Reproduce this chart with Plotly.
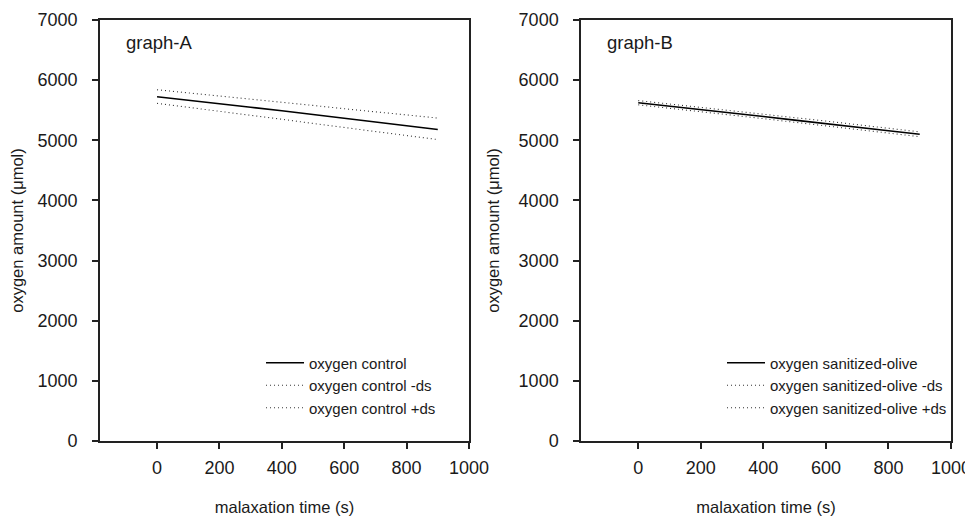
import plotly.graph_objects as go

# ---- data ----
time_s = [0, 100, 200, 300, 400, 500, 600, 700, 800, 900]

control = [5725, 5670, 5610, 5550, 5490, 5430, 5365, 5305, 5245, 5180]
control_minus = [5614, 5550, 5485, 5415, 5350, 5280, 5215, 5145, 5080, 5012]
control_plus = [5840, 5790, 5735, 5685, 5630, 5580, 5525, 5475, 5420, 5370]

sanit = [5625, 5570, 5510, 5455, 5395, 5335, 5280, 5220, 5160, 5100]
sanit_minus = [5590, 5535, 5478, 5420, 5360, 5300, 5240, 5180, 5120, 5060]
sanit_plus = [5660, 5605, 5545, 5490, 5430, 5375, 5320, 5260, 5200, 5140]

x_ticks = [0, 200, 400, 600, 800, 1000]
y_ticks = [0, 1000, 2000, 3000, 4000, 5000, 6000, 7000]

FONT = "Liberation Sans, Arial, sans-serif"
TXT = "#1a1a1a"

fig = go.Figure()

def add_set(xa, ya, legend, names, ys):
    styles = [dict(color="black", width=1.6, dash="solid"),
              dict(color="#333333", width=1.1, dash="1px,3px"),
              dict(color="#333333", width=1.1, dash="1px,3px")]
    for nm, yv, st in zip(names, ys, styles):
        fig.add_trace(go.Scatter(x=time_s, y=yv, mode="lines", name=nm,
                                 line=st, xaxis=xa, yaxis=ya, legend=legend))

add_set("x", "y", "legend",
        ["oxygen control", "oxygen control -ds", "oxygen control +ds"],
        [control, control_minus, control_plus])
add_set("x2", "y2", "legend2",
        ["oxygen sanitized-olive", "oxygen sanitized-olive -ds", "oxygen sanitized-olive +ds"],
        [sanit, sanit_minus, sanit_plus])

ax_common = dict(showline=True, linecolor="#222222", linewidth=1.5, mirror=True,
                 ticks="outside", ticklen=6, tickcolor="#222222", tickwidth=1.5,
                 showgrid=False, zeroline=False, automargin=False,
                 tickfont=dict(family=FONT, size=18, color=TXT))

xaxis = dict(ax_common, range=[-183, 1000], tickvals=x_ticks,
             ticklabelstandoff=4,
             title=dict(text="malaxation time (s)", standoff=24,
                        font=dict(family=FONT, size=16.5, color=TXT)))
yaxis = dict(ax_common, range=[0, 7000], tickvals=y_ticks,
             ticklabelstandoff=11,
             title=dict(text="oxygen amount (\u03bcmol)", standoff=15,
                        font=dict(family=FONT, size=16.5, color=TXT)))

legend_common = dict(font=dict(family=FONT, size=15, color=TXT),
                     bgcolor="rgba(0,0,0,0)", borderwidth=0,
                     xanchor="left", yanchor="top", tracegroupgap=0,
                     itemwidth=38)

fig.update_layout(
    width=965, height=509,
    margin=dict(l=0, r=0, t=0, b=0),
    paper_bgcolor="white", plot_bgcolor="white",
    xaxis=dict(xaxis, domain=[0.0953, 0.4777], anchor="y"),
    yaxis=dict(yaxis, domain=[0.1493, 0.9764], anchor="x"),
    xaxis2=dict(xaxis, domain=[0.5938, 0.9772], anchor="y2"),
    yaxis2=dict(yaxis, domain=[0.1493, 0.9764], anchor="x2"),
    legend=dict(legend_common, x=0.2622, y=0.335),
    legend2=dict(legend_common, x=0.7399, y=0.335),
    annotations=[
        dict(text="graph-A", x=0.065, y=0.9477, xref="x domain", yref="y domain",
             xanchor="left", yanchor="middle", showarrow=False,
             font=dict(family=FONT, size=18.5, color=TXT)),
        dict(text="graph-B", x=0.065, y=0.9477, xref="x2 domain", yref="y2 domain",
             xanchor="left", yanchor="middle", showarrow=False,
             font=dict(family=FONT, size=18.5, color=TXT)),
    ],
)

fig.write_html("out.html")
